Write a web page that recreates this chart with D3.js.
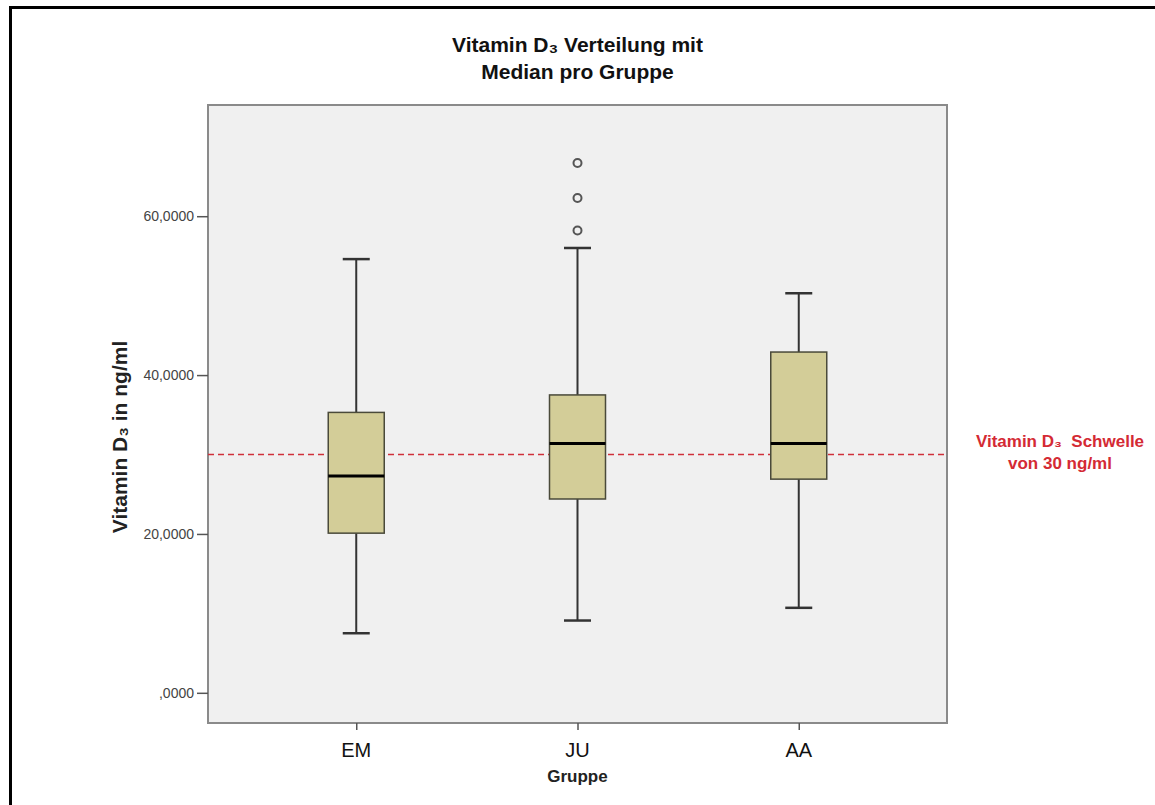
<!DOCTYPE html>
<html>
<head>
<meta charset="utf-8">
<script src="https://cdn.jsdelivr.net/npm/d3@7"></script>
<style>
  body { margin: 0; background: #fff; overflow: hidden; }
  svg { display: block; }
  text { font-family: "Liberation Sans", Arial, "DejaVu Sans", sans-serif; }
</style>
</head>
<body>
<div id="chart"><svg></svg></div>
<script>
// data
let groups = ["EM", "JU", "AA"];
let whiskerLow = [7.5, 9.1, 10.7];
let q1 = [20.1, 24.4, 26.9];
let medians = [27.3, 31.4, 31.4];
let q3 = [35.3, 37.5, 42.9];
let whiskerHigh = [54.6, 56.0, 50.3];
let outliers = [[], [58.2, 62.3, 66.7], []];
let yTicks = [0, 20, 40, 60];
let yTickLabels = [",0000", "20,0000", "40,0000", "60,0000"];
let threshold = 30;

// plot frame
let margins = { top: 105, right: 208, bottom: 82, left: 208 };
let width = 1155, height = 805;
let innerWidth = width - margins.left - margins.right;
let innerHeight = height - margins.top - margins.bottom;

let svg = d3.select("#chart svg")
  .attr("width", width)
  .attr("height", height);

// outer black frame (only top and left visible)
svg.append("line").attr("x1", 10.5).attr("x2", 10.5).attr("y1", 6).attr("y2", height)
  .attr("stroke", "#000").attr("stroke-width", 3);
svg.append("line").attr("x1", 9).attr("x2", width).attr("y1", 7.5).attr("y2", 7.5)
  .attr("stroke", "#000").attr("stroke-width", 3);

let g = svg.append("g")
  .attr("transform", "translate(" + margins.left + "," + margins.top + ")");

let xScale = d3.scalePoint()
  .domain(groups)
  .range([0, innerWidth])
  .padding(0.67);

let yScale = d3.scaleLinear()
  .domain([-3.8, 74])
  .range([innerHeight, 0]);

// background
g.append("rect")
  .attr("width", innerWidth)
  .attr("height", innerHeight)
  .attr("fill", "#f0f0f0")
  .attr("stroke", "#8a8a8a")
  .attr("stroke-width", 2);

// y axis (tick marks from d3, labels placed with the same scale)
let yAxis = g.append("g")
  .call(d3.axisLeft(yScale).tickValues(yTicks).tickSize(11).tickFormat(""));
yAxis.select(".domain").remove();
yAxis.selectAll(".tick line").attr("stroke", "#555").attr("stroke-width", 1.5);

yTicks.forEach((d, i) => {
  svg.append("text")
    .attr("x", margins.left - 14)
    .attr("y", margins.top + yScale(d) + 5)
    .attr("text-anchor", "end")
    .attr("fill", "#444")
    .style("font-size", "14px")
    .text(yTickLabels[i]);
});

// x axis
let xAxis = g.append("g")
  .attr("transform", "translate(0," + innerHeight + ")")
  .call(d3.axisBottom(xScale).tickSize(7).tickFormat(""));
xAxis.select(".domain").remove();
xAxis.selectAll(".tick line").attr("stroke", "#555").attr("stroke-width", 1.5);

groups.forEach(d => {
  svg.append("text")
    .attr("x", margins.left + xScale(d))
    .attr("y", margins.top + innerHeight + 34)
    .attr("text-anchor", "middle")
    .attr("fill", "#111")
    .style("font-size", "20px")
    .text(d);
});

// threshold line
g.append("line")
  .attr("x1", 0).attr("x2", innerWidth)
  .attr("y1", yScale(threshold)).attr("y2", yScale(threshold))
  .attr("stroke", "#d0303a")
  .attr("stroke-width", 1.5)
  .attr("stroke-dasharray", "6,4");

// boxes
let boxW = 56, capW = 27;
let boxes = g.selectAll(".box")
  .data(groups)
  .join("g")
  .attr("class", "box")
  .attr("transform", d => "translate(" + xScale(d) + ",0)");

// whiskers
boxes.append("line")
  .attr("y1", (d, i) => yScale(whiskerHigh[i]))
  .attr("y2", (d, i) => yScale(q3[i]))
  .attr("stroke", "#333").attr("stroke-width", 2);
boxes.append("line")
  .attr("y1", (d, i) => yScale(q1[i]))
  .attr("y2", (d, i) => yScale(whiskerLow[i]))
  .attr("stroke", "#333").attr("stroke-width", 2);
// caps
boxes.append("line")
  .attr("x1", -capW / 2).attr("x2", capW / 2)
  .attr("y1", (d, i) => yScale(whiskerHigh[i]))
  .attr("y2", (d, i) => yScale(whiskerHigh[i]))
  .attr("stroke", "#333").attr("stroke-width", 2.5);
boxes.append("line")
  .attr("x1", -capW / 2).attr("x2", capW / 2)
  .attr("y1", (d, i) => yScale(whiskerLow[i]))
  .attr("y2", (d, i) => yScale(whiskerLow[i]))
  .attr("stroke", "#333").attr("stroke-width", 2.5);

boxes.append("rect")
  .attr("x", -boxW / 2)
  .attr("width", boxW)
  .attr("y", (d, i) => yScale(q3[i]))
  .attr("height", (d, i) => yScale(q1[i]) - yScale(q3[i]))
  .attr("fill", "#d3cd98")
  .attr("stroke", "#4a4a3a")
  .attr("stroke-width", 1.5);

boxes.append("line")
  .attr("x1", -boxW / 2).attr("x2", boxW / 2)
  .attr("y1", (d, i) => yScale(medians[i]))
  .attr("y2", (d, i) => yScale(medians[i]))
  .attr("stroke", "#000").attr("stroke-width", 3);

boxes.selectAll("circle")
  .data((d, i) => outliers[i])
  .join("circle")
  .attr("cy", d => yScale(d))
  .attr("r", 4)
  .attr("fill", "#f0f0f0")
  .attr("stroke", "#555")
  .attr("stroke-width", 2);

// titles (subscript 3 as a unicode character)
let cx = margins.left + innerWidth / 2;
function label(x, y, size, color, txt) {
  return svg.append("text")
    .attr("x", x).attr("y", y)
    .attr("text-anchor", "middle")
    .style("font-size", size + "px")
    .style("font-weight", "bold")
    .attr("fill", color)
    .text(txt);
}

label(cx, 52, 21, "#111", "Vitamin D\u2083 Verteilung mit");
label(cx, 79, 21, "#111", "Median pro Gruppe");

label(0, 0, 21, "#222", "Vitamin D\u2083 in ng/ml")
  .attr("transform", "translate(127,437) rotate(-90)");

label(cx, 782, 17, "#222", "Gruppe");

// threshold annotation
label(1060, 447, 17, "#d42a34", "Vitamin D\u2083  Schwelle").style("white-space", "pre");
label(1060, 469, 17, "#d42a34", "von 30 ng/ml");
</script>
</body>
</html>
